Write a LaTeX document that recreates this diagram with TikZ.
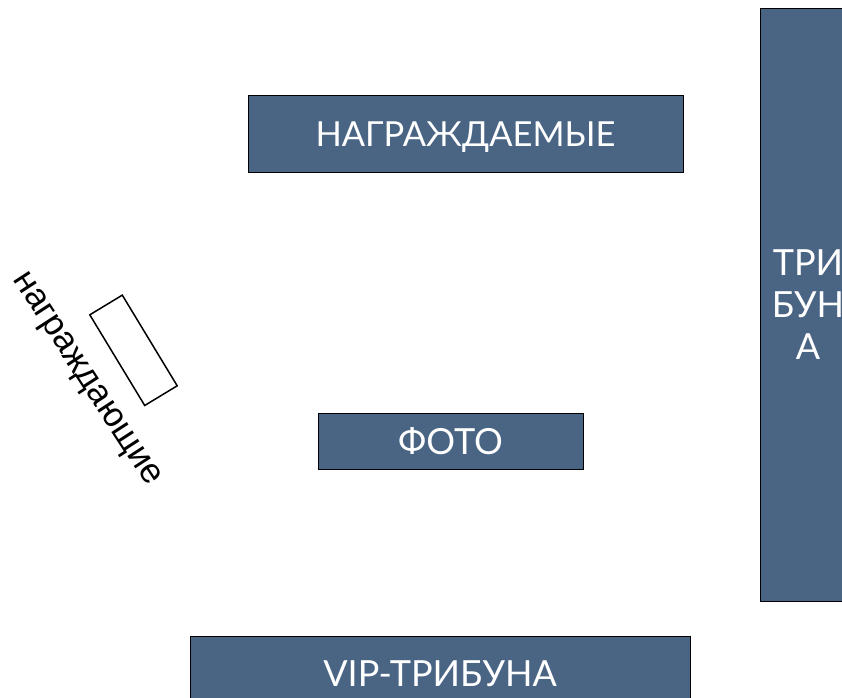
\documentclass[tikz,border=0pt]{standalone}
\usepackage{fontspec}
\setmainfont{Liberation Sans}
\newfontfamily\boxfont{Lato}
\definecolor{slate}{HTML}{4A6584}
\begin{document}
\begin{tikzpicture}[x=1pt,y=-1pt,
  bluebox/.style={draw=black,line width=1pt,fill=slate,text=white,inner sep=0pt,
    font=\boxfont\fontsize{36}{42}\selectfont,align=center},
  whitebox/.style={draw=black,line width=1.5pt,fill=white,inner sep=0pt}]
\useasboundingbox (0,0) rectangle (842,697);
\clip (0,0) rectangle (842,697);
\fill[white] (0,0) rectangle (842,697);
\node[bluebox,minimum width=435pt,minimum height=77pt] (nagr) at (465.5,133.5) {};
\node[text=white,font=\boxfont\fontsize{34.5}{42}\selectfont] at ([yshift=-4pt]nagr.center) {НАГРАЖДАЕМЫЕ};
\node[bluebox,minimum width=96pt,minimum height=593pt] (trib) at (808,304.5) {ТРИ\\БУН\\А};
\node[bluebox,minimum width=265pt,minimum height=56pt] (foto) at (450.5,441) {ФОТО};
\node[bluebox,minimum width=500pt,minimum height=76pt] (vip) at (440,674) {VIP-ТРИБУНА};
\node[whitebox,minimum width=106pt,minimum height=38pt,rotate=-58.8] (table) at (133.5,350.3) {};
\node[rotate=-57,inner sep=0pt,font=\fontsize{35}{42}\selectfont] (givers) at (85,380) {награждающие};
\end{tikzpicture}
\end{document}
